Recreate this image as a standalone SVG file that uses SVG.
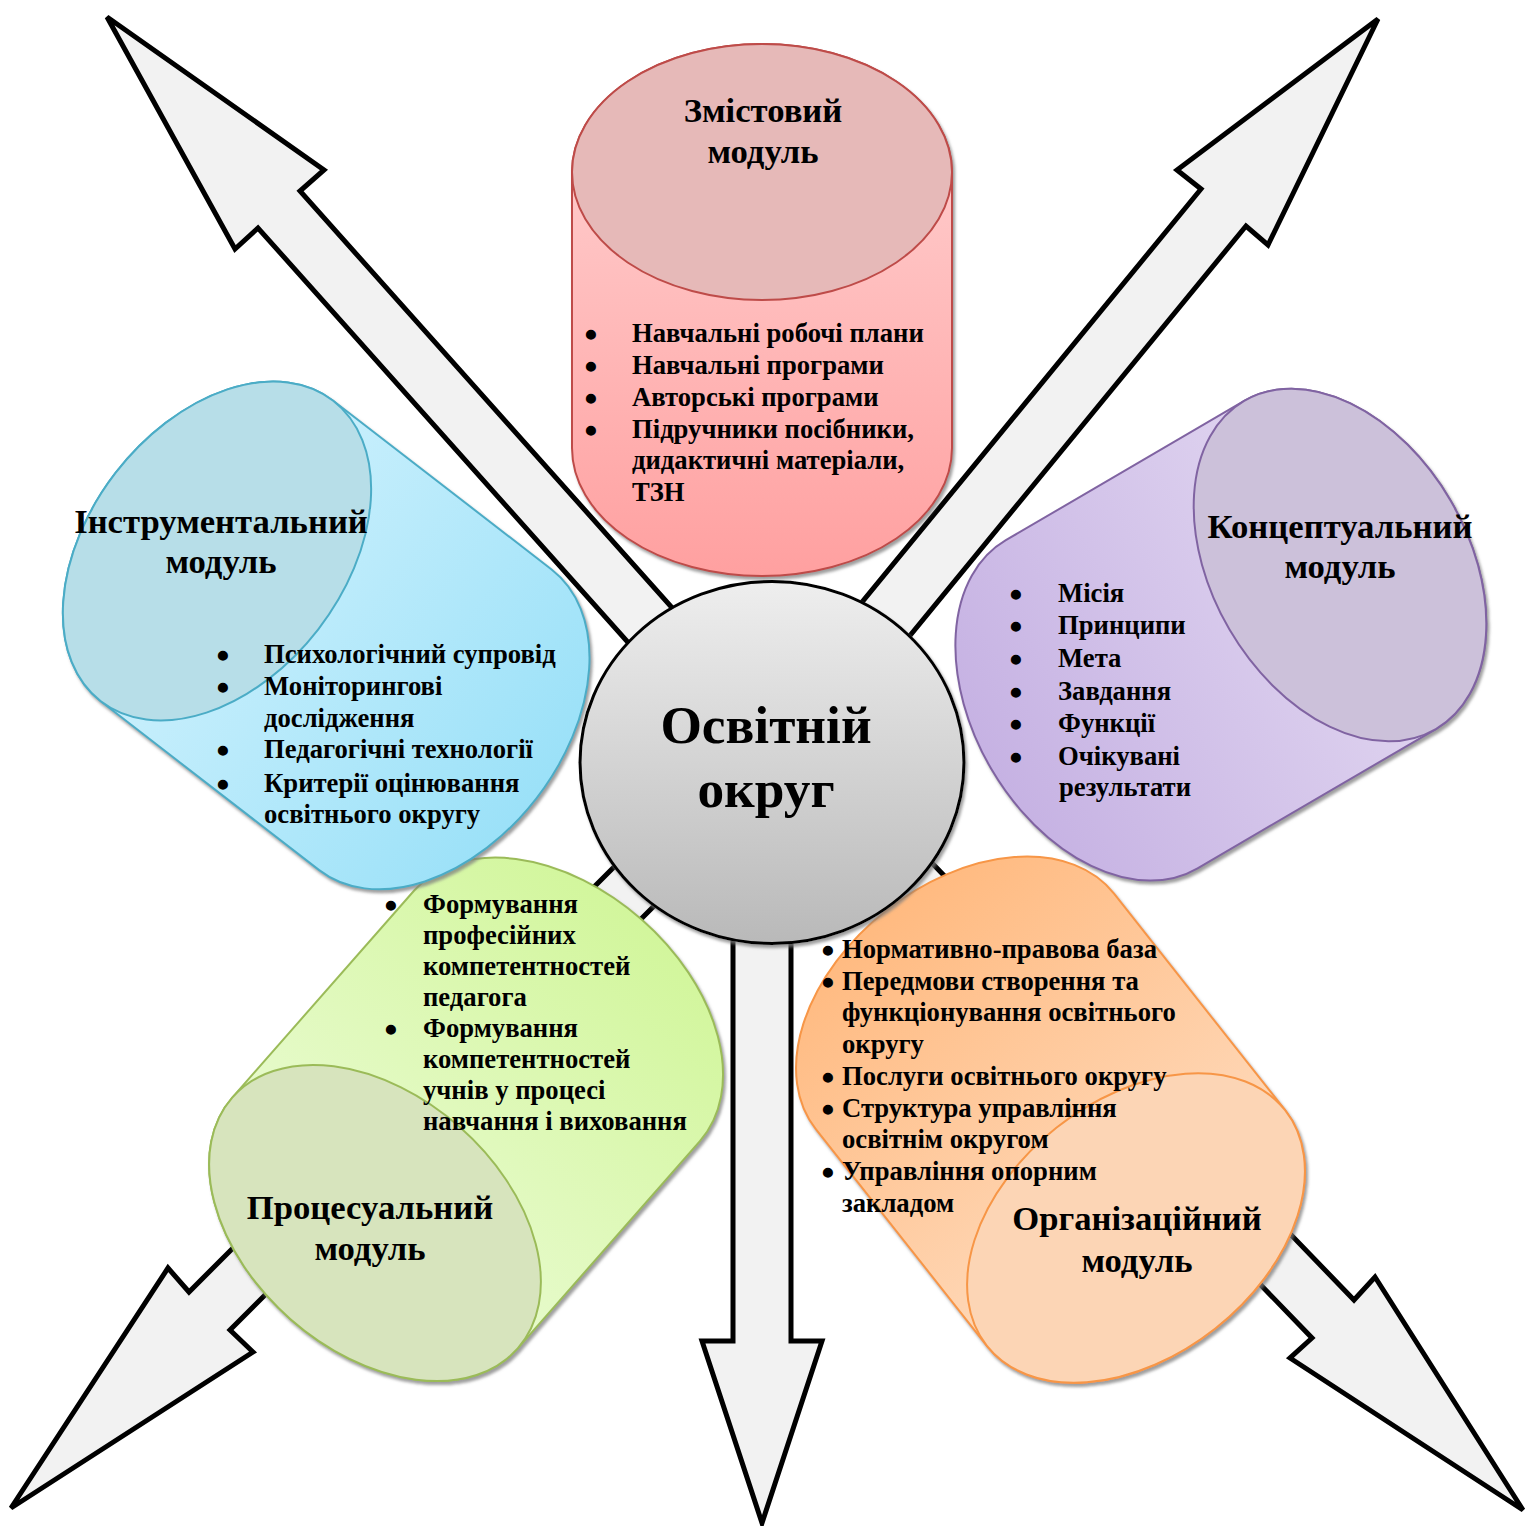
<svg xmlns="http://www.w3.org/2000/svg" width="1528" height="1526" viewBox="0 0 1528 1526">
<defs>
<style>
.t{font-family:"Liberation Serif","Times New Roman",serif;font-weight:bold;fill:#000}
.ti{font-size:34.67px;text-anchor:middle}
.b{font-size:26.67px}
.bu{font-size:28px;text-anchor:middle;stroke:#000;stroke-width:2.5}
.c{font-size:53.33px;text-anchor:middle}
.arr{fill:#f2f2f2;stroke:#000;stroke-width:5;stroke-linejoin:miter}
.cyl{stroke-width:2}
</style>
<filter id="sh" x="-10%" y="-10%" width="125%" height="125%">
<feDropShadow dx="2" dy="3" stdDeviation="1.5" flood-color="#7f7f7f" flood-opacity="0.75"/>
</filter>
<linearGradient id="gRed" gradientUnits="userSpaceOnUse" x1="0" y1="-128" x2="0" y2="404">
<stop offset="0" stop-color="#ffd6d6"/><stop offset="1" stop-color="#ffa0a0"/>
</linearGradient>
<linearGradient id="gBlue" gradientUnits="userSpaceOnUse" x1="0" y1="-128" x2="0" y2="404">
<stop offset="0" stop-color="#d8f4fe"/><stop offset="1" stop-color="#9be1f8"/>
</linearGradient>
<linearGradient id="gPur" gradientUnits="userSpaceOnUse" x1="0" y1="-128" x2="0" y2="404">
<stop offset="0" stop-color="#e6ddf3"/><stop offset="1" stop-color="#c6b2e3"/>
</linearGradient>
<linearGradient id="gGrn" gradientUnits="userSpaceOnUse" x1="0" y1="-128" x2="0" y2="404">
<stop offset="0" stop-color="#eefcdc"/><stop offset="1" stop-color="#d2f69c"/>
</linearGradient>
<linearGradient id="gOrg" gradientUnits="userSpaceOnUse" x1="0" y1="-128" x2="0" y2="404">
<stop offset="0" stop-color="#fee1c9"/><stop offset="1" stop-color="#ffba80"/>
</linearGradient>
<linearGradient id="gCir" x1="0" y1="0" x2="0" y2="1">
<stop offset="0" stop-color="#eeeeee"/><stop offset="1" stop-color="#b9b9b9"/>
</linearGradient>
</defs>

<g id="connectors">
<polygon class="arr" points="107,17 324,170 300,191 700,639 658,676 258,228 235,249"/>
<polygon class="arr" points="1378,19 1268,245 1246,226 853,705 808,668 1201,189 1177,170"/>
<polygon class="arr" points="762,1523 702,1341 733,1341 733,850 791,850 791,1341 822,1341"/>
<polygon class="arr" points="11,1508 168,1268 189,1292 648,833 689,871 230,1330 253,1352"/>
<polygon class="arr" points="1523,1510 1375,1277 1354,1300 903,833 861,871 1312,1338 1290,1358"/>
</g>

<g id="node-zmistovyi" filter="url(#sh)">
<g transform="translate(762,172)">
<path class="cyl" d="M-190,0 A190,128 0 0 1 190,0 L190,276 A190,128 0 0 1 -190,276 Z" fill="url(#gRed)" stroke="#be4b48"/>
<ellipse class="cyl" cx="0" cy="0" rx="190" ry="128" fill="#e6b9b8" stroke="#be4b48"/>
</g>
</g>

<g id="node-protsesualnyi" filter="url(#sh)">
<g transform="translate(375,1223) rotate(-138.7)">
<path class="cyl" d="M-190,0 A190,128 0 0 1 190,0 L190,276 A190,128 0 0 1 -190,276 Z" fill="url(#gGrn)" stroke="#9bbb59"/>
<ellipse class="cyl" cx="0" cy="0" rx="190" ry="128" fill="#d7e4bd" stroke="#9bbb59"/>
</g>
</g>

<g id="node-instrumentalnyi" filter="url(#sh)">
<g transform="translate(217,551) rotate(-52.3)">
<path class="cyl" d="M-190,0 A190,128 0 0 1 190,0 L190,276 A190,128 0 0 1 -190,276 Z" fill="url(#gBlue)" stroke="#4bacc6"/>
<ellipse class="cyl" cx="0" cy="0" rx="190" ry="128" fill="#b7dee8" stroke="#4bacc6"/>
</g>
</g>

<g id="node-orhanizatsiinyi" filter="url(#sh)">
<g transform="translate(1136,1228) rotate(141.7)">
<path class="cyl" d="M-190,0 A190,128 0 0 1 190,0 L190,276 A190,128 0 0 1 -190,276 Z" fill="url(#gOrg)" stroke="#f79646"/>
<ellipse class="cyl" cx="0" cy="0" rx="190" ry="128" fill="#fcd5b5" stroke="#f79646"/>
</g>
</g>

<g id="node-kontseptualnyi" filter="url(#sh)">
<g transform="translate(1340,565) rotate(59.7)">
<path class="cyl" d="M-190,0 A190,128 0 0 1 190,0 L190,276 A190,128 0 0 1 -190,276 Z" fill="url(#gPur)" stroke="#8064a2"/>
<ellipse class="cyl" cx="0" cy="0" rx="190" ry="128" fill="#ccc1da" stroke="#8064a2"/>
</g>
</g>

<g id="node-center">
<ellipse cx="772" cy="762.5" rx="192" ry="181" fill="url(#gCir)" stroke="#000" stroke-width="3" filter="url(#sh)"/>
<text class="t c" x="766" y="743">Освітній</text>
<text class="t c" x="766" y="807">округ</text>
</g>

<g id="text-zmistovyi">
<text class="t ti" x="763" y="122">Змістовий</text>
<text class="t ti" x="763" y="163">модуль</text>
<text class="t bu" x="591" y="344">•</text>
<text class="t bu" x="591" y="376">•</text>
<text class="t bu" x="591" y="408">•</text>
<text class="t bu" x="591" y="440">•</text>
<text class="t b" x="632" y="342">Навчальні робочі плани</text>
<text class="t b" x="632" y="374">Навчальні програми</text>
<text class="t b" x="632" y="406">Авторські програми</text>
<text class="t b" x="632" y="438">Підручники посібники,</text>
<text class="t b" x="632" y="469">дидактичні матеріали,</text>
<text class="t b" x="632" y="501">ТЗН</text>
</g>

<g id="text-instrumentalnyi">
<text class="t ti" x="221" y="533">Інструментальний</text>
<text class="t ti" x="221" y="573">модуль</text>
<text class="t bu" x="223" y="665">•</text>
<text class="t bu" x="223" y="697">•</text>
<text class="t bu" x="223" y="760">•</text>
<text class="t bu" x="223" y="794">•</text>
<text class="t b" x="264" y="663">Психологічний супровід</text>
<text class="t b" x="264" y="695">Моніторингові</text>
<text class="t b" x="264" y="727">дослідження</text>
<text class="t b" x="264" y="758">Педагогічні технології</text>
<text class="t b" x="264" y="792">Критерії оцінювання</text>
<text class="t b" x="264" y="823">освітнього округу</text>
</g>

<g id="text-kontseptualnyi">
<text class="t ti" x="1340" y="538">Концептуальний</text>
<text class="t ti" x="1340" y="578">модуль</text>
<text class="t bu" x="1016" y="604">•</text>
<text class="t bu" x="1016" y="636">•</text>
<text class="t bu" x="1016" y="669">•</text>
<text class="t bu" x="1016" y="702">•</text>
<text class="t bu" x="1016" y="734">•</text>
<text class="t bu" x="1016" y="767">•</text>
<text class="t b" x="1058" y="602">Місія</text>
<text class="t b" x="1058" y="634">Принципи</text>
<text class="t b" x="1058" y="667">Мета</text>
<text class="t b" x="1058" y="700">Завдання</text>
<text class="t b" x="1058" y="732">Функції</text>
<text class="t b" x="1058" y="765">Очікувані</text>
<text class="t b" x="1059" y="796">результати</text>
</g>

<g id="text-protsesualnyi">
<text class="t ti" x="370" y="1219">Процесуальний</text>
<text class="t ti" x="370" y="1260">модуль</text>
<text class="t bu" x="391" y="915">•</text>
<text class="t bu" x="391" y="1039">•</text>
<text class="t b" x="423" y="913">Формування</text>
<text class="t b" x="423" y="944">професійних</text>
<text class="t b" x="423" y="975">компетентностей</text>
<text class="t b" x="423" y="1006">педагога</text>
<text class="t b" x="423" y="1037">Формування</text>
<text class="t b" x="423" y="1068">компетентностей</text>
<text class="t b" x="423" y="1099">учнів у процесі</text>
<text class="t b" x="423" y="1130">навчання і виховання</text>
</g>

<g id="text-orhanizatsiinyi">
<text class="t ti" x="1137" y="1230">Організаційний</text>
<text class="t ti" x="1137" y="1272">модуль</text>
<text class="t bu" x="828" y="960">•</text>
<text class="t bu" x="828" y="992">•</text>
<text class="t bu" x="828" y="1087">•</text>
<text class="t bu" x="828" y="1119">•</text>
<text class="t bu" x="828" y="1182">•</text>
<text class="t b" x="842" y="958">Нормативно-правова база</text>
<text class="t b" x="842" y="990">Передмови створення та</text>
<text class="t b" x="842" y="1021">функціонування освітнього</text>
<text class="t b" x="842" y="1053">округу</text>
<text class="t b" x="842" y="1085">Послуги освітнього округу</text>
<text class="t b" x="842" y="1117">Структура управління</text>
<text class="t b" x="842" y="1148">освітнім округом</text>
<text class="t b" x="842" y="1180">Управління опорним</text>
<text class="t b" x="842" y="1212">закладом</text>
</g>
</svg>
